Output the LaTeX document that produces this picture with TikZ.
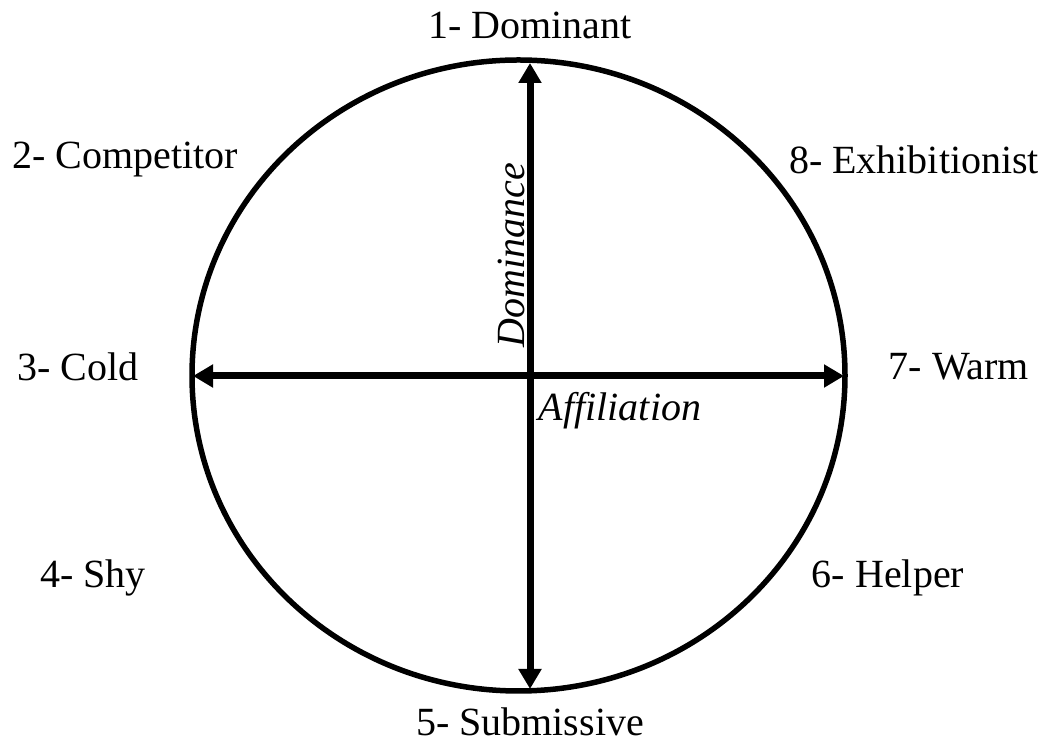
\documentclass[tikz,border=0pt]{standalone}
\usepackage{fontspec}
\setmainfont{Liberation Serif}
\usetikzlibrary{arrows.meta}
\begin{document}
\begin{tikzpicture}[x=1pt, y=1pt, line join=round]
\tikzstyle{ring} = [draw,line width=5.5pt]
\tikzstyle{axis} = [draw,line width=7pt,{Triangle[length=20pt,width=22pt]}-{Triangle[length=20pt,width=22pt]}]
\tikzstyle{lbl} = [font=\fontsize{40}{44}\selectfont, inner sep=0pt]
\useasboundingbox (0,0) rectangle (1047,746);
  \coordinate (c) at (518.5,370.5);
  \draw[ring] (c) ellipse [x radius=326.5, y radius=315.5];
  \coordinate (top) at (530,683);
  \coordinate (bot) at (530,57);
  \coordinate (lft) at (193,370);
  \coordinate (rgt) at (844,370);
  \draw[axis] (bot) -- (top);
  \draw[axis] (lft) -- (rgt);
  \foreach \n/\x/\y/\t in {d1/530/721/1- Dominant, d2/125/586/2- Competitor,
    d3/78/379/3- Cold, d4/93/168/4- Shy, d5/530/24/5- Submissive,
    d6/888/168/6- Helper, d7/959/379/7- Warm, d8/914/586/8- Exhibitionist}{
    \node[lbl] (\n) at (\x,\y) {\t};
  }
  \node[lbl, rotate=90, font=\fontsize{40}{44}\selectfont\itshape] (dom) at (511,491) {Dominance};
  \node[lbl, font=\fontsize{40}{44}\selectfont\itshape] (aff) at (620,335) {Affiliation};
\end{tikzpicture}
\end{document}
